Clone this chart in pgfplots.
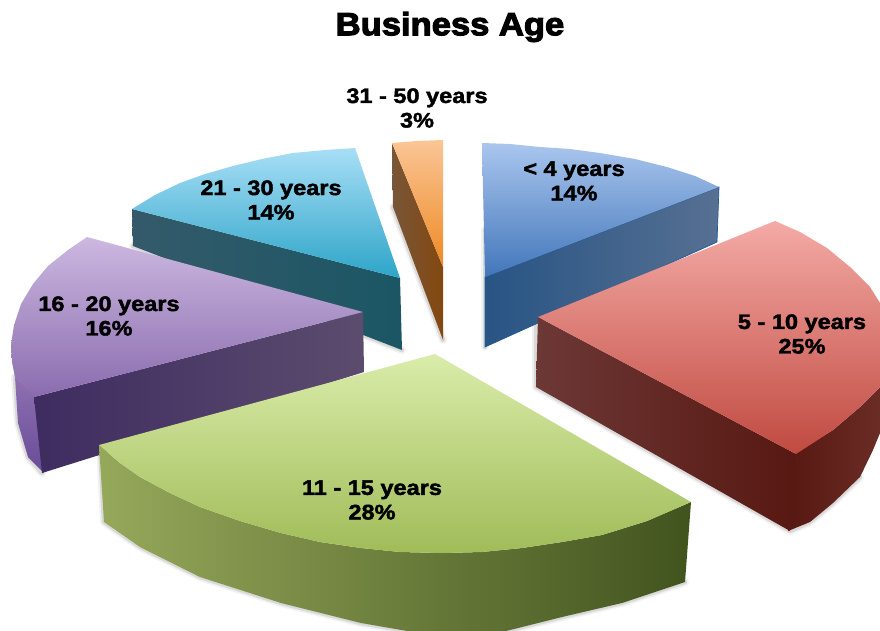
\documentclass[border=0pt]{standalone}
\usepackage{pgfplots}
\usepackage{fontspec}
\pgfplotsset{compat=1.18}
\setmainfont{Liberation Sans}
\newfontfamily\labelfont{Liberation Sans Bold}[FakeBold=2,FakeStretch=1.12]
\newfontfamily\titlefont{Liberation Sans Bold}[FakeBold=3.5,FakeStretch=1.08]

\definecolor{cyanSideL}{RGB}{52,90,106}
\definecolor{cyanSideR}{RGB}{27,86,100}
\definecolor{cyanTopA}{RGB}{168,222,246}
\definecolor{cyanTopB}{RGB}{45,165,200}
\definecolor{orgSideL}{RGB}{120,86,56}
\definecolor{orgSideR}{RGB}{132,72,16}
\definecolor{orgTopA}{RGB}{250,197,150}
\definecolor{orgTopB}{RGB}{238,138,36}
\definecolor{bluEdge}{RGB}{30,90,150}
\definecolor{bluSideL}{RGB}{40,84,132}
\definecolor{bluSideR}{RGB}{86,112,146}
\definecolor{bluTopA}{RGB}{170,198,238}
\definecolor{bluTopB}{RGB}{66,118,186}
\definecolor{purOutA}{RGB}{142,112,178}
\definecolor{purOutB}{RGB}{104,76,150}
\definecolor{purSideL}{RGB}{62,44,96}
\definecolor{purSideR}{RGB}{92,76,110}
\definecolor{purTopA}{RGB}{204,184,224}
\definecolor{purTopB}{RGB}{138,108,174}
\definecolor{redSideL}{RGB}{108,56,54}
\definecolor{redSideR}{RGB}{88,24,18}
\definecolor{redOutL}{RGB}{88,24,18}
\definecolor{redOutR}{RGB}{108,44,38}
\definecolor{redTopA}{RGB}{244,170,166}
\definecolor{redTopB}{RGB}{192,74,64}
\definecolor{grnSideL}{RGB}{150,168,90}
\definecolor{grnSideM}{RGB}{104,134,56}
\definecolor{grnSideR}{RGB}{66,84,30}
\definecolor{grnTopA}{RGB}{218,236,170}
\definecolor{grnTopB}{RGB}{160,188,88}

% Lower edges of the slices, used for the soft ground shadows
\pgfplotstableread{
x y
100 445
104 522
140 547
200 577
281 603
361 623
413 632
502 632
562 617
622 603
685 582
}\greenbody
\pgfplotstableread{
x y
536 317
536 387
790 531
810 522
833 503
860 477
}\redbody
\pgfplotstableread{
x y
15 377
18 423
28 457
42 473
}\purplebody
\pgfplotstableread{
x y
133 246
402 350
}\cyanbody
\pgfplotstableread{
x y
393 207
443 340
}\orangebody
\pgfplotstableread{
x y
485 230
485 347
}\bluebody

\tikzset{
  ground1/.style={draw=black,line width=8pt,line cap=round,line join=round,opacity=.05},
  ground2/.style={draw=black,line width=4.5pt,line cap=round,line join=round,opacity=.10}
}
\tikzset{
  pielabel/.style={font=\labelfont\fontsize{21}{24.5}\selectfont,align=center,text=black,inner sep=0pt}
}

\begin{document}
\begin{tikzpicture}
\begin{axis}[
  scale only axis,
  width=880pt,height=630pt,
  xmin=0,xmax=880,ymin=0,ymax=630,
  y dir=reverse,
  hide axis,
  every axis plot/.append style={mark=none}
]
% page extent
\addplot[draw=none,fill=white] coordinates {(0,0)(880,0)(880,630)(0,630)} --cycle;

% ground shadows
\addplot[ground1] table {\cyanbody};
\addplot[ground2] table {\cyanbody};
\addplot[ground1] table {\orangebody};
\addplot[ground2] table {\orangebody};
\addplot[ground1] table {\bluebody};
\addplot[ground2] table {\bluebody};
\addplot[ground1] table {\purplebody};
\addplot[ground2] table {\purplebody};
\addplot[ground1] table {\redbody};
\addplot[ground2] table {\redbody};
\addplot[ground1] table {\greenbody};
\addplot[ground2] table {\greenbody};

% 21 - 30 years
\addplot[draw=none,left color=cyanSideL,right color=cyanSideR]
  coordinates {(132,209)(133,246)(402,350)(400,278)} --cycle;
\addplot[draw=none,top color=cyanTopA,bottom color=cyanTopB]
  coordinates {(355,148)(325,150)(293,153)(262,159)(233,166)(205,174)(180,183)(155,195)(132,209)(400,278)} --cycle;

% 31 - 50 years
\addplot[draw=none,left color=orgSideL,right color=orgSideR]
  coordinates {(392,143)(393,207)(443,340)(443,267)} --cycle;
\addplot[draw=none,top color=orgTopA,bottom color=orgTopB]
  coordinates {(392,143)(417,141)(443,140)(443,267)} --cycle;

% < 4 years
\addplot[draw=bluEdge,line width=.7pt,left color=bluSideL,right color=bluSideR]
  coordinates {(485,277)(719,187)(717,242)(485,347)} --cycle;
\addplot[draw=none,top color=bluTopA,bottom color=bluTopB]
  coordinates {(482,143)(510,144)(540,147)(570,149)(600,153)(635,159)(667,167)(695,176)(719,187)(485,277)} --cycle;

% 16 - 20 years
\addplot[draw=none,top color=purOutA,bottom color=purOutB]
  coordinates {(36,397)(15,377)(18,423)(28,457)(44,473)} --cycle;
\addplot[draw=none,left color=purSideL,right color=purSideR]
  coordinates {(34,397)(363,312)(364,372)(42,473)} --cycle;
\addplot[draw=none,top color=purTopA,bottom color=purTopB]
  coordinates {(87,237)(68,250)(48,266)(33,284)(21,304)(14,325)(11,345)(12,362)(15,377)(34,397)(363,312)} --cycle;

% 5 - 10 years
\addplot[draw=none,left color=redOutL,right color=redOutR]
  coordinates {(794,454)(833,430)(860,407)(880,387)(880,433)(873,450)(860,477)(833,503)(810,522)(788,531)} --cycle;
\addplot[draw=none,left color=redSideL,right color=redSideR]
  coordinates {(538,317)(796,454)(790,531)(536,387)} --cycle;
\addplot[draw=none,top color=redTopA,bottom color=redTopB]
  coordinates {(538,317)(775,221)(800,232)(827,248)(850,267)(870,287)(880,303)(881,345)(880,387)(860,407)(833,430)(796,454)} --cycle;

% 11 - 15 years
\addplot[draw=none,left color=grnSideL,middle color=grnSideM,right color=grnSideR]
  coordinates {(99,445)(120,463)(140,477)(170,493)(200,507)(240,521)(281,533)(320,542)(361,548)(400,552)(442,553)(482,552)(522,548)(562,542)(602,535)(647,521)(691,502)(685,582)(622,603)(562,617)(502,632)(413,632)(361,623)(281,603)(200,577)(140,547)(104,522)} --cycle;
\addplot[draw=none,top color=grnTopA,bottom color=grnTopB]
  coordinates {(435,354)(691,502)(647,521)(602,535)(562,542)(522,548)(482,552)(442,553)(400,552)(361,548)(320,542)(281,533)(240,521)(200,507)(170,493)(140,477)(120,463)(99,445)} --cycle;

% text
\node[font=\titlefont\fontsize{32}{36}\selectfont,inner sep=0pt] at (axis cs:450,27) {Business Age};
\node[pielabel] at (axis cs:417,108) {31 - 50 years\\3\%};
\node[pielabel] at (axis cs:574,181) {< 4 years\\14\%};
\node[pielabel] at (axis cs:271,200) {21 - 30 years\\14\%};
\node[pielabel] at (axis cs:109,316) {16 - 20 years\\16\%};
\node[pielabel] at (axis cs:802,334) {5 - 10 years\\25\%};
\node[pielabel] at (axis cs:372,500) {11 - 15 years\\28\%};
\end{axis}
\end{tikzpicture}
\end{document}
